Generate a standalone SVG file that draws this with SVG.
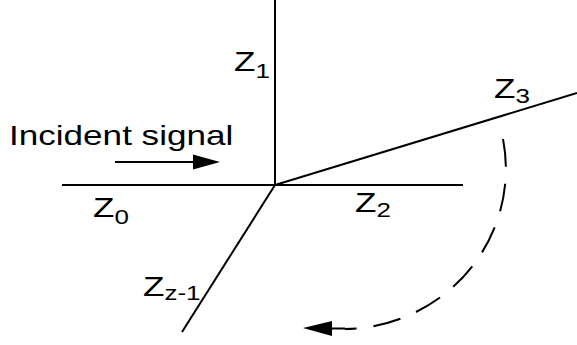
<svg xmlns="http://www.w3.org/2000/svg" width="577" height="345" viewBox="0 0 577 345">
<style>
.ln{stroke:#000;stroke-width:2;fill:none;stroke-linecap:butt}
.dash{stroke:#000;stroke-width:2;fill:none;stroke-dasharray:28 17}
text{font-family:"Liberation Sans",Arial,sans-serif;font-size:27px;fill:#000}
.sub{font-size:20px}
</style>
<rect width="577" height="345" fill="#fff"/>
<g id="connectors">
<line class="ln" x1="275" y1="0" x2="275" y2="185"/>
<line class="ln" x1="62" y1="185" x2="463" y2="185"/>
<line class="ln" x1="275" y1="185" x2="577" y2="93"/>
<line class="ln" x1="275" y1="185" x2="182" y2="332"/>
<line class="ln" x1="115" y1="162" x2="195" y2="162"/>
<polygon points="193,154.5 220,162 193,169.5" fill="#000"/>
<path class="dash" d="M503,139 A163 160 0 0 1 345,329"/>
<line class="ln" x1="345" y1="328.5" x2="330" y2="328.5"/>
<polygon points="332,321 303,328 332,336" fill="#000"/>
</g>
<g id="incident"><text transform="translate(9,145) scale(1.3,1)">Incident signal</text></g>
<g id="z1"><text transform="translate(234,71) scale(1.3,1)">Z<tspan class="sub" dy="7">1</tspan></text></g>
<g id="z3"><text transform="translate(494,98) scale(1.3,1)">Z<tspan class="sub" dy="5">3</tspan></text></g>
<g id="z0"><text transform="translate(93,217) scale(1.3,1)">Z<tspan class="sub" dy="7">0</tspan></text></g>
<g id="z2"><text transform="translate(355,212) scale(1.3,1)">Z<tspan class="sub" dy="5">2</tspan></text></g>
<g id="zz1"><text transform="translate(143,296) scale(1.3,1)">Z<tspan class="sub" dy="4">z-1</tspan></text></g>
</svg>
